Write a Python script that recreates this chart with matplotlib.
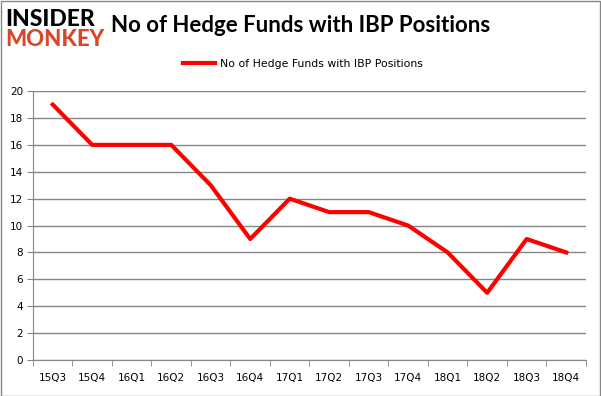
import numpy as np
import matplotlib.pyplot as plt
from matplotlib.patches import Rectangle

# Data
quarters = ['15Q3', '15Q4', '16Q1', '16Q2', '16Q3', '16Q4', '17Q1',
            '17Q2', '17Q3', '17Q4', '18Q1', '18Q2', '18Q3', '18Q4']
funds = [19, 16, 16, 16, 13, 9, 12, 11, 11, 10, 8, 5, 9, 8]
yticks = [0, 2, 4, 6, 8, 10, 12, 14, 16, 18, 20]

fig = plt.figure(figsize=(6.01, 3.96), dpi=100)
ax = fig.add_axes([0.0549, 0.0909, 0.92, 0.679])

x = np.arange(len(quarters))
ax.plot(x, funds, color='#ff0000', lw=3, label='No of Hedge Funds with IBP Positions')

ax.set_xlim(-0.5, len(quarters) - 0.5)
ax.set_ylim(0, 20)
ax.set_yticks(yticks)
ax.set_xticks(x)
ax.set_xticklabels(quarters)
ax.set_xticks(np.arange(-0.5, len(quarters), 1), minor=True)
ax.tick_params(axis='x', which='major', length=0, pad=9, labelsize=7.5)
ax.tick_params(axis='x', which='minor', length=4, color='#868686')
ax.tick_params(axis='y', length=4, color='#868686', labelsize=7.5, pad=3)
ax.grid(axis='y', color='#868686', lw=1)
ax.set_axisbelow(True)
for s in ['top', 'right']:
    ax.spines[s].set_visible(False)
for s in ['left', 'bottom']:
    ax.spines[s].set_color('#868686')

ax.legend(loc='center', bbox_to_anchor=(0.488, 1.1), frameon=False,
          fontsize=7.8, handlelength=3.0, handletextpad=0.4)

fig.text(0.5, 0.935, 'No of Hedge Funds with IBP Positions', ha='center', va='center',
         fontsize=16, fontweight='bold', family='Lato')
fig.text(0.008, 0.952, 'INSIDER', ha='left', va='center', fontsize=16.5, fontweight='black',
         color='black', family='Lato')
fig.text(0.008, 0.9, 'MONKEY', ha='left', va='center', fontsize=16, fontweight='black',
         color='#d9472b', family='Lato')

fig.patches.append(Rectangle((0.001, 0.001), 0.997, 0.996, transform=fig.transFigure,
                             fill=False, edgecolor='#868686', lw=1))

fig.savefig('out.png', dpi=100)
